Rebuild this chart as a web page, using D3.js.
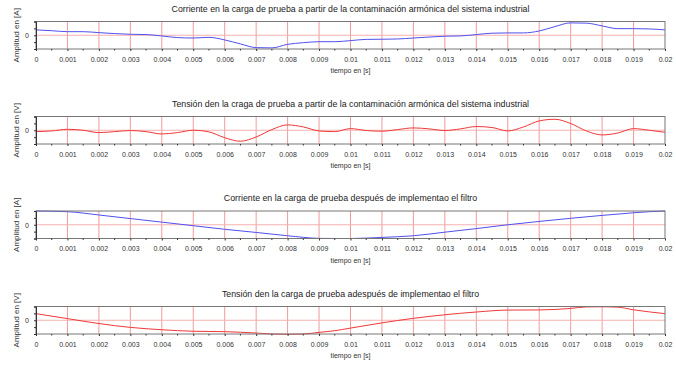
<!DOCTYPE html>
<html>
<head>
<meta charset="utf-8">
<script src="https://cdn.jsdelivr.net/npm/d3@7"></script>
<style>
  body { margin: 0; background: #fff; }
  svg { font-family: "Liberation Sans", Arial, sans-serif; }
  .axis path, .axis line { stroke: #333; }
  .axis text { fill: #333; font-size: 7px; }
</style>
</head>
<body>
<div id="chart"></div>
<script>
// time samples (s)
var tCoarse = [0, 0.0005, 0.001, 0.0015, 0.002, 0.0025, 0.003, 0.0035, 0.004, 0.0045, 0.005,
  0.0055, 0.006, 0.0065, 0.007, 0.0075, 0.008, 0.0085, 0.009, 0.0095, 0.01,
  0.0105, 0.011, 0.0115, 0.012, 0.0125, 0.013, 0.0135, 0.014, 0.0145, 0.015,
  0.0155, 0.016, 0.0165, 0.017, 0.0175, 0.018, 0.0185, 0.019, 0.0195, 0.02];

var xTicks = [0, 0.001, 0.002, 0.003, 0.004, 0.005, 0.006, 0.007, 0.008, 0.009, 0.01,
  0.011, 0.012, 0.013, 0.014, 0.015, 0.016, 0.017, 0.018, 0.019, 0.02];

// corriente antes del filtro
var corrienteAntes = [0.39, 0.33, 0.26, 0.26, 0.19, 0.12, 0.07, 0.05, -0.05, -0.17, -0.2,
  -0.15, -0.34, -0.63, -0.9, -0.92, -0.66, -0.54, -0.47, -0.47, -0.39,
  -0.3, -0.29, -0.27, -0.2, -0.13, -0.07, -0.05, 0.05, 0.15, 0.17,
  0.17, 0.31, 0.63, 0.9, 0.88, 0.68, 0.48, 0.48, 0.46, 0.39];

// tensión antes del filtro
var tensionAntes = [-0.1, -0.05, 0.07, 0, -0.17, -0.1, -0.02, -0.1, -0.27, -0.17, 0,
  -0.12, -0.54, -0.8, -0.49, 0.05, 0.39, 0.24, -0.05, -0.1, 0.12,
  -0.02, -0.07, 0.05, 0.17, 0.1, -0.02, 0.1, 0.27, 0.2, -0.05,
  0.24, 0.68, 0.8, 0.49, -0.05, -0.34, -0.2, 0.12, 0, -0.15];

// corriente después del filtro
var tFiltro = [0, 0.001, 0.002, 0.003, 0.004, 0.005, 0.006, 0.007, 0.008, 0.009, 0.0095, 0.01,
  0.011, 0.012, 0.013, 0.014, 0.015, 0.016, 0.017, 0.018, 0.019, 0.0195, 0.02];
var corrienteDespues = [1.0, 0.95, 0.71, 0.45, 0.19, -0.07, -0.33, -0.56, -0.8, -0.99, -1.0, -1.0,
  -0.92, -0.8, -0.54, -0.28, 0, 0.24, 0.47, 0.68, 0.87, 0.95, 1.0];

// tensión después del filtro
var tTension = [0, 0.001, 0.002, 0.003, 0.004, 0.005, 0.006, 0.007, 0.0075, 0.008, 0.0085, 0.009, 0.0095,
  0.01, 0.011, 0.012, 0.013, 0.014, 0.015, 0.016, 0.017, 0.0175, 0.018, 0.0185, 0.019, 0.02];
var tensionDespues = [0.48, 0.12, -0.24, -0.52, -0.69, -0.8, -0.83, -0.93, -1.0, -1.02, -1.0, -0.88, -0.76,
  -0.57, -0.19, 0.14, 0.4, 0.6, 0.74, 0.75, 0.86, 0.97, 0.98, 0.95, 0.76, 0.48];

var panels = [
  { title: "Corriente en la carga de prueba a partir de la contaminación armónica del sistema industrial",
    ylab: "Amplitud en [A]", t: tCoarse, v: corrienteAntes, color: "#5050ee", top: 21.5 },
  { title: "Tensión den la craga de prueba a partir de la contaminación armónica del sistema industrial",
    ylab: "Amplitud en [V]", t: tCoarse, v: tensionAntes, color: "#ee3838", top: 116.5 },
  { title: "Corriente en la carga de prueba después de implementao el filtro",
    ylab: "Amplitud en [A]", t: tFiltro, v: corrienteDespues, color: "#5050ee", top: 211 },
  { title: "Tensión den la carga de prueba adespués de implementao el filtro",
    ylab: "Amplitud en [V]", t: tTension, v: tensionDespues, color: "#ee3838", top: 306.5 }
];

var W = 676, H = 365;
var left = 36, right = 665, plotH = 27.5;

var svg = d3.select("#chart").append("svg")
  .attr("width", W).attr("height", H);

var x = d3.scaleLinear().domain([0, 0.02]).range([left, right]);

panels.forEach(function(p, k) {
  var y = d3.scaleLinear().domain([-1, 1]).range([p.top + plotH, p.top]);
  var g = svg.append("g");

  // title
  g.append("text")
    .attr("x", (left + right) / 2).attr("y", p.top - 10)
    .attr("text-anchor", "middle")
    .style("font-size", "8.8px").style("fill", "#222")
    .text(p.title);

  // grid
  g.selectAll(".vgrid").data(xTicks.slice(1, -1)).enter().append("line")
    .attr("x1", function(d) { return x(d); }).attr("x2", function(d) { return x(d); })
    .attr("y1", p.top).attr("y2", p.top + plotH)
    .attr("stroke", "#f39a9a").attr("stroke-width", 1);
  g.append("line")
    .attr("x1", left).attr("x2", right)
    .attr("y1", y(0)).attr("y2", y(0))
    .attr("stroke", "#f6b0b0").attr("stroke-width", 1);

  // curve
  var clipId = "clip" + k;
  svg.append("clipPath").attr("id", clipId).append("rect")
    .attr("x", left).attr("y", p.top - 1).attr("width", right - left).attr("height", plotH + 2);
  var line = d3.line()
    .x(function(d, i) { return x(p.t[i]); })
    .y(function(d) { return y(d); })
    .curve(d3.curveMonotoneX);
  g.append("path")
    .datum(p.v)
    .attr("clip-path", "url(#" + clipId + ")")
    .attr("fill", "none")
    .attr("stroke", p.color)
    .attr("stroke-width", 1)
    .attr("d", line);

  // frame
  g.append("rect")
    .attr("x", left).attr("y", p.top).attr("width", right - left).attr("height", plotH)
    .attr("fill", "none").attr("stroke", "#777").attr("stroke-width", 1);

  // x axis
  var xAxis = d3.axisBottom(x)
    .tickValues(xTicks)
    .tickSize(2)
    .tickPadding(6)
    .tickFormat(function(d) { return d === 0 ? "0" : d3.format("")(+d.toFixed(3)); });
  g.append("g")
    .attr("class", "x axis")
    .attr("transform", "translate(0," + (p.top + plotH) + ")")
    .call(xAxis)
    .call(function(s) { s.select(".domain").remove(); });
  // minor ticks
  g.selectAll(".minor").data(d3.range(0, 20).map(function(i) { return 0.0005 + i * 0.001; }))
    .enter().append("line")
    .attr("x1", function(d) { return x(d); }).attr("x2", function(d) { return x(d); })
    .attr("y1", p.top + plotH).attr("y2", p.top + plotH + 1.5)
    .attr("stroke", "#333");

  // y axis
  var yAxis = d3.axisLeft(y)
    .tickValues([-1, -0.5, 0, 0.5, 1])
    .tickSize(2)
    .tickPadding(5)
    .tickFormat(function(d) { return d === 0 ? "0" : ""; });
  g.append("g")
    .attr("class", "y axis")
    .attr("transform", "translate(" + left + ",0)")
    .call(yAxis);

  // labels
  g.append("text")
    .attr("x", (left + right) / 2).attr("y", p.top + plotH + 24)
    .attr("text-anchor", "middle")
    .style("font-size", "7px").style("fill", "#333")
    .text("tiempo en [s]");
  g.append("text")
    .attr("transform", "translate(19," + (p.top + plotH / 2) + ") rotate(-90)")
    .attr("text-anchor", "middle")
    .style("font-size", "8px").style("fill", "#333")
    .text(p.ylab);
});
</script>
</body>
</html>
